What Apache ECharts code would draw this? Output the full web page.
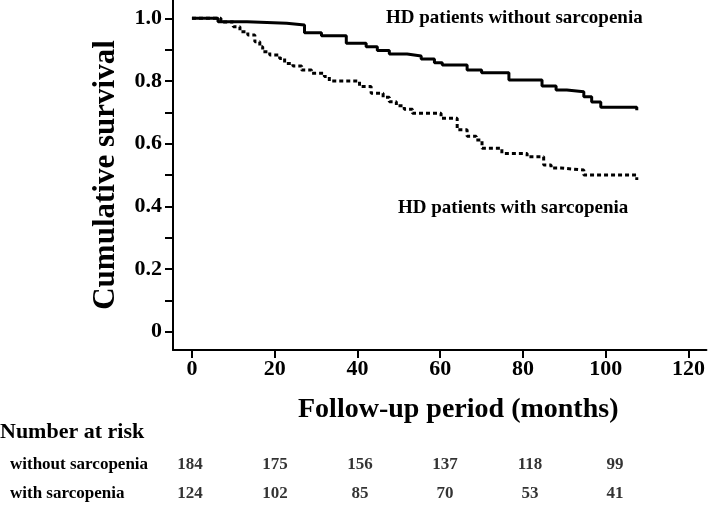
<!DOCTYPE html>
<html>
<head>
<meta charset="utf-8">
<script src="https://cdn.jsdelivr.net/npm/echarts@6/dist/echarts.min.js"></script>
<style>html,body{margin:0;padding:0;background:#fff}#c{width:708px;height:508px}</style>
</head>
<body>
<div id="c"></div>
<script>
// Kaplan-Meier step data (months, cumulative survival)
var monthsWithout = [0, 6.3, 13.3, 22.9, 27.2, 31.3, 37.3, 42.1, 44.8, 47.7, 52, 55.4, 58.6, 60.5, 66.5, 70, 76.6, 84.6, 88, 90.6, 94.7, 96.6, 98.8, 107.5];
var survWithout  = [1.0, 0.989, 0.984, 0.979, 0.954, 0.944, 0.920, 0.909, 0.897, 0.886, 0.880, 0.870, 0.858, 0.851, 0.835, 0.826, 0.803, 0.784, 0.771, 0.766, 0.750, 0.733, 0.716, 0.707];
var monthsWith = [0, 7, 10, 11.6, 13.5, 15.2, 16.4, 17.1, 18.8, 21.2, 22.4, 24.4, 26.5, 28.9, 32, 33.2, 40.5, 43.3, 46.2, 47.7, 49.4, 51.3, 53.3, 60.2, 64.1, 66.5, 68.7, 70.1, 74.9, 81, 85, 86.8, 89.2, 94.7, 107.5];
var survWith  = [1.0, 0.988, 0.973, 0.957, 0.947, 0.925, 0.909, 0.893, 0.883, 0.872, 0.856, 0.848, 0.835, 0.825, 0.814, 0.800, 0.782, 0.761, 0.748, 0.734, 0.721, 0.710, 0.697, 0.681, 0.644, 0.624, 0.612, 0.585, 0.569, 0.558, 0.532, 0.522, 0.516, 0.500, 0.484];

var xTicks = [0, 20, 40, 60, 80, 100, 120];
var yLabels = [0, 0.2, 0.4, 0.6, 0.8, 1.0];
var yTicks = [0, 0.1, 0.2, 0.3, 0.4, 0.5, 0.6, 0.7, 0.8, 0.9, 1.0];

var riskMonths = [0, 20, 40, 60, 80, 100];
var riskWithout = [184, 175, 156, 137, 118, 99];
var riskWith = [124, 102, 85, 70, 53, 41];
var riskRows = ['without sarcopenia', 'with sarcopenia'];

var FONT = "'Liberation Serif', 'Times New Roman', serif";

function pairs(xs, ys) { return xs.map(function (x, i) { return [x, ys[i]]; }); }
var riskData = [];
riskMonths.forEach(function (m, i) { riskData.push([m, 0, riskWithout[i]]); });
riskMonths.forEach(function (m, i) { riskData.push([m, 1, riskWith[i]]); });

var chart = echarts.init(document.getElementById('c'), null, { renderer: 'canvas' });
chart.setOption({
  animation: false,
  backgroundColor: '#fff',
  grid: [
    { left: 173, right: 0, top: 0, height: 350 },
    { left: 170, right: 0, top: 450, height: 62 }
  ],
  xAxis: [
    {
      type: 'value', gridIndex: 0, min: -4.578, max: 124.34,
      axisLine: { show: true, onZero: false, lineStyle: { color: '#000', width: 2 } },
      axisTick: { show: true, customValues: xTicks, length: 8, lineStyle: { color: '#000', width: 2 } },
      axisLabel: { customValues: xTicks, margin: 8, color: '#000', fontSize: 22, fontWeight: 'bold', fontFamily: FONT },
      splitLine: { show: false }
    },
    {
      type: 'value', gridIndex: 1, min: -4.706, max: 121.88, show: false
    }
  ],
  yAxis: [
    {
      type: 'value', gridIndex: 0, min: -0.0584, max: 1.0584,
      axisLine: { show: true, onZero: false, lineStyle: { color: '#000', width: 2 } },
      axisTick: { show: true, customValues: yTicks, length: 8, lineStyle: { color: '#000', width: 2 } },
      axisLabel: {
        customValues: yLabels, margin: 11, color: '#000', fontSize: 22, fontWeight: 'bold', fontFamily: FONT,
        formatter: function (v) { return v === 0 ? '0' : v.toFixed(1); }
      },
      splitLine: { show: false }
    },
    {
      type: 'category', gridIndex: 1, data: riskRows, inverse: true,
      axisLine: { show: false }, axisTick: { show: false }, splitLine: { show: false },
      axisLabel: { align: 'left', margin: 160, color: '#000', fontSize: 17, fontWeight: 'bold', fontFamily: FONT }
    }
  ],
  series: [
    {
      type: 'line', xAxisIndex: 0, yAxisIndex: 0, step: 'end', showSymbol: false, silent: true,
      data: pairs(monthsWithout, survWithout),
      lineStyle: { color: '#000', width: 3 }
    },
    {
      type: 'line', xAxisIndex: 0, yAxisIndex: 0, step: 'end', showSymbol: false, silent: true,
      data: pairs(monthsWith, survWith),
      lineStyle: { color: '#000', width: 3, type: [4, 3] }
    },
    {
      type: 'scatter', xAxisIndex: 1, yAxisIndex: 1, symbolSize: 1, silent: true,
      itemStyle: { color: 'rgba(0,0,0,0)' },
      data: riskData,
      label: {
        show: true, position: 'inside', color: '#000', fontSize: 17, fontWeight: 'bold', fontFamily: FONT,
        formatter: function (p) { return String(p.value[2]); }
      }
    }
  ],
  graphic: [
    { type: 'text', x: 106, y: 175, rotation: Math.PI / 2,
      style: { text: 'Cumulative survival', fill: '#000', font: 'bold 31px ' + FONT, align: 'center', verticalAlign: 'middle' } },
    { type: 'text', left: 386, top: 9, style: { text: 'HD patients without sarcopenia', fill: '#000', font: 'bold 19px ' + FONT } },
    { type: 'text', left: 398, top: 199, style: { text: 'HD patients with sarcopenia', fill: '#000', font: 'bold 19px ' + FONT } },
    { type: 'text', left: 298, top: 396, style: { text: 'Follow-up period (months)', fill: '#000', font: 'bold 28px ' + FONT } },
    { type: 'text', left: 0, top: 421, style: { text: 'Number at risk', fill: '#000', font: 'bold 22px ' + FONT } }
  ]
});
</script>
</body>
</html>
